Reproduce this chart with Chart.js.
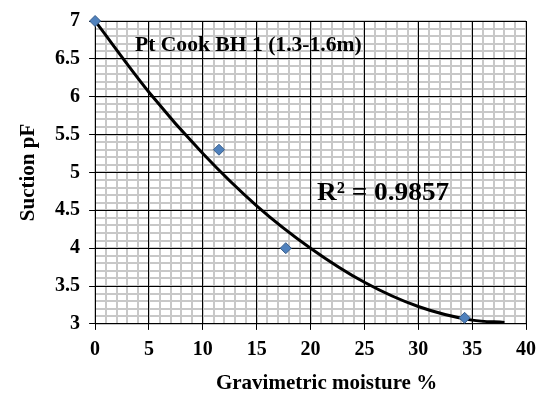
<!DOCTYPE html>
<html>
<head>
<meta charset="utf-8">
<script src="https://cdn.jsdelivr.net/npm/chart.js@4/dist/chart.umd.min.js"></script>
<style>
  body { margin: 0; background: #fff; }
  #wrap { width: 539px; height: 395px; }
</style>
</head>
<body>
<div id="wrap"><canvas id="chart" width="539" height="395"></canvas></div>
<script>
// measured points
const moisture = [0, 11.5, 17.7, 34.3];
const suction = [7.0, 5.3, 4.0, 3.08];

// polynomial trendline
const trendX = [0, 5, 10, 15, 20, 25, 30, 35, 38];
const trendY = [7.0, 6.06, 5.25, 4.56, 4.0, 3.55, 3.23, 3.05, 3.02];

const xTicks = [0, 5, 10, 15, 20, 25, 30, 35, 40];
const yTicks = [3, 3.5, 4, 4.5, 5, 5.5, 6, 6.5, 7];

const seriesLabel = 'Pt Cook BH 1 (1.3-1.6m)';
const r2Label = 'R\u00b2 = 0.9857';
const xTitle = 'Gravimetric moisture %';

const serif = '"Liberation Serif", "DejaVu Serif", serif';

function wideText(ctx, text, x, y, font, sx) {
  ctx.save();
  ctx.font = font;
  ctx.translate(x, y);
  ctx.scale(sx, 1);
  ctx.fillText(text, 0, 0);
  ctx.restore();
}

// titles written inside the plot, plus the x title (sits a bit right of centre)
const notes = {
  id: 'notes',
  afterDatasetsDraw(chart) {
    const ctx = chart.ctx;
    const x = chart.scales.x, y = chart.scales.y;
    ctx.save();
    ctx.fillStyle = '#000';
    ctx.textBaseline = 'middle';
    ctx.textAlign = 'left';
    wideText(ctx, seriesLabel, x.getPixelForValue(3.7), y.getPixelForValue(6.67),
             'bold 20px ' + serif, 1.08);
    wideText(ctx, r2Label, x.getPixelForValue(20.6), y.getPixelForValue(4.72),
             'bold 26px ' + serif, 1.05);
    ctx.textAlign = 'center';
    ctx.font = 'bold 21px ' + serif;
    ctx.fillText(xTitle, (x.left + x.right) / 2 + 16, 384);
    ctx.restore();
  }
};

new Chart(document.getElementById('chart'), {
  type: 'scatter',
  data: {
    datasets: [
      {
        label: 'trend',
        type: 'line',
        data: trendX.map((v, i) => ({ x: v, y: trendY[i] })),
        borderColor: '#000',
        borderWidth: 3,
        pointRadius: 0,
        cubicInterpolationMode: 'monotone',
        fill: false,
        order: 2
      },
      {
        label: seriesLabel,
        data: moisture.map((v, i) => ({ x: v, y: suction[i] })),
        pointStyle: 'rectRot',
        pointRadius: 5.5,
        backgroundColor: '#4f81bd',
        borderColor: '#385d8a',
        borderWidth: 1,
        clip: false,
        order: 1
      }
    ]
  },
  options: {
    responsive: false,
    animation: false,
    layout: { padding: { left: 13, right: 13, top: 19, bottom: -5 } },
    plugins: { legend: { display: false }, tooltip: { enabled: false } },
    scales: {
      x: {
        type: 'linear', min: 0, max: 40,
        afterBuildTicks: s => { s.ticks = xTicks.map(v => ({ value: v })); },
        afterFit: s => { s.paddingRight = 0; },
        grid: { color: '#000', lineWidth: 1, tickLength: 6, z: -1 },
        border: { color: '#000' },
        ticks: { color: '#000', font: { family: serif, size: 20, weight: 'bold' }, padding: 8,
                 callback: v => String(v) },
        // room for the title, text drawn by the notes plugin
        title: { display: true, text: xTitle, color: 'rgba(0,0,0,0)',
                 font: { family: serif, size: 21, weight: 'bold', lineHeight: 1.1 }, padding: { top: 3 } }
      },
      y: {
        type: 'linear', min: 3, max: 7,
        afterBuildTicks: s => { s.ticks = yTicks.map(v => ({ value: v })); },
        grid: { color: '#000', lineWidth: 1, tickLength: 6, z: -1 },
        border: { color: '#000' },
        ticks: { color: '#000', font: { family: serif, size: 20, weight: 'bold' }, padding: 9,
                 callback: v => String(v) },
        title: { display: true, text: 'Suction pF', color: '#000',
                 font: { family: serif, size: 21, weight: 'bold', lineHeight: 1.1 }, padding: { bottom: 6 } }
      },
      // fine grid
      x2: {
        type: 'linear', position: 'top', min: 0, max: 40,
        ticks: { display: false, stepSize: 1, autoSkip: false },
        grid: { color: '#c8c8c8', lineWidth: 2, drawTicks: false, z: -2 },
        border: { display: false },
        afterFit: s => { s.height = 0; }
      },
      y2: {
        type: 'linear', position: 'right', min: 3, max: 7,
        ticks: { display: false, stepSize: 0.1, autoSkip: false },
        grid: { color: '#c8c8c8', lineWidth: 2, drawTicks: false, z: -2 },
        border: { display: false },
        afterFit: s => { s.width = 0; }
      }
    }
  },
  plugins: [notes]
});
</script>
</body>
</html>
